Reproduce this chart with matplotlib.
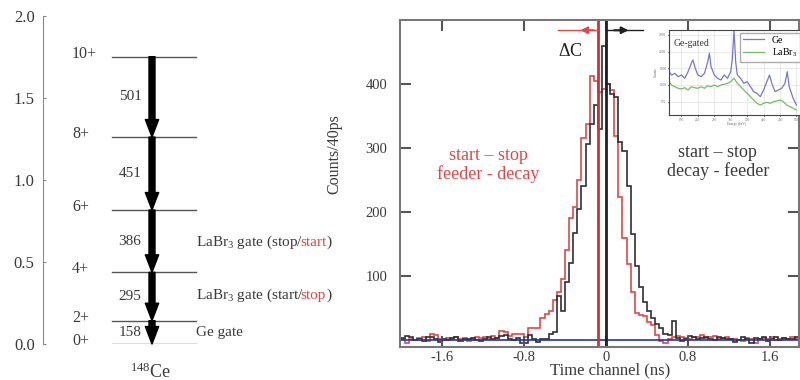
import numpy as np
import matplotlib
matplotlib.use('Agg')
import matplotlib.pyplot as plt
from matplotlib import transforms

plt.rcParams['font.family'] = ['Liberation Serif', 'DejaVu Serif']
plt.rcParams['mathtext.fontset'] = 'custom'
plt.rcParams['mathtext.rm'] = 'Liberation Serif'
plt.rcParams['mathtext.it'] = 'Liberation Serif:italic'
plt.rcParams['axes.unicode_minus'] = False

# level scheme of 148Ce (MeV)
spins = ['0+', '2+', '4+', '6+', '8+', '10+']
levels = [0.0, 0.142, 0.437, 0.817, 1.262, 1.752]
gammas = ['158', '295', '386', '451', '501']

# time difference spectra, 40 ps bins starting at -2.0 ns
bin_start = -2.0
bin_width = 0.04
decay_feeder = [3, 6, 5, 0, 2, -2, 4, 5, 1, -3, 2, 0, 3, 4, -1, 2, 1, 3, 0, -2,
                2, 4, 1, 3, 6, 8, 2, 0, 3, -5, -4, 8, 2, -3, 1,
                2, 10, 12, 68, 45, 90, 120, 167, 205, 240, 307, 338, 367, 330, 460,
                400, 385, 380, 310, 295, 240, 165, 115, 83, 60, 45, 35, 25, 18, 10,
                8, 29, 3,
                -2, 2, 6, 4, 1, 3, 5, 2, 0, 4, 3, 1, 2, -3, 0, 4, 2, -4, 3, 1,
                5, -2, 2, 4, 0, 3, 1, 2, 4, 3]
feeder_decay = [1, -4, 2, 0, 3, 5, -2, 9, 8, 2, 0, 3, 1, 4, 2, 3, -1, 2, 4, 3,
                5, 2, 6, 3, 14, 13, 6, 10, 10, 9,
                5, 18, 18, 18, 35, 40, 45, 62, 75, 95, 140, 190, 208, 250, 315,
                338, 413, 405, 388, 392, 400, 390, 318, 224, 160, 118, 75, 42, 39, 38,
                28, 24, 8, -2,
                -5, 2, 4, 6, 5, 3, 2, 4, 5, 7, 3, 4, 6, 2, 3, 5, 1, 2, 0, -2,
                3, 2, -4, 1, 3, 2, 4, 0, 2, 3, 1, 4, 2, 3]
centroid_feeder_decay = -0.08
centroid_decay_feeder = 0.0
background = 0

# inset: Ge-gated energy spectra
ge_energy = [112, 120, 130, 140, 150, 160, 170, 180, 185, 192, 200, 210, 220, 230, 235,
             240, 250, 260, 270, 280, 290, 300, 305, 310, 315, 320, 330, 340, 350, 360,
             370, 380, 390, 400, 410, 418, 425, 435, 445, 455, 465, 472, 478, 490, 500]
ge_counts = [1400, 1300, 1350, 1250, 1300, 1200, 1400, 1650, 1750, 1500, 1300, 1250, 1350,
             1700, 1950, 1550, 1300, 1200, 1150, 1300, 1200, 1400, 1800, 2650, 1700, 1300,
             1200, 1050, 1100, 950, 800, 750, 650, 850, 1100, 1300, 1050, 800, 850, 900,
             1050, 1400, 950, 600, 400]
labr_energy = [112, 120, 130, 140, 150, 160, 170, 180, 190, 200, 210, 220, 230, 240, 250,
               260, 270, 280, 290, 300, 310, 320, 330, 340, 350, 360, 370, 380, 390, 400,
               410, 420, 430, 440, 450, 460, 470, 480, 490, 500]
labr_counts = [1100, 1000, 950, 900, 880, 920, 850, 950, 920, 900, 950, 900, 980, 950, 1000,
               950, 1000, 1020, 1050, 1100, 1200, 1050, 950, 850, 750, 650, 550, 450, 400,
               450, 480, 450, 500, 520, 550, 500, 400, 350, 300, 250]

red = '#e04848'
dark = '#3a3a3a'


def colored_text(ax, x, y, pieces, **kw):
    # draw text pieces one after another, each in its own colour
    renderer = ax.figure.canvas.get_renderer()
    tr = ax.transData
    for s, c in pieces:
        t = ax.text(x, y, s, color=c, transform=tr, **kw)
        t.draw(renderer)
        ext = t.get_window_extent(renderer)
        w = ext.width - (3 if '$' in s else 0)
        tr = transforms.offset_copy(t.get_transform(), x=w, units='dots')


fig = plt.figure(figsize=(8, 3.8), dpi=100)

# ---- left: level scheme
ax1 = fig.add_axes([43 / 800, 36 / 380, 300 / 800, 328 / 380])
ax1.set_xlim(0, 300)
ax1.set_ylim(0, 2.0)
for s in ['top', 'right', 'bottom']:
    ax1.spines[s].set_visible(False)
ax1.spines['left'].set_color('#8a8a8a')
ax1.set_xticks([])
ax1.set_yticks([0, 0.5, 1.0, 1.5, 2.0])
ax1.set_yticklabels(['0.0', '0.5', '1.0', '1.5', '2.0'])
ax1.tick_params(axis='y', direction='in', length=2, color='#8a8a8a', labelsize=12,
                labelcolor=dark, pad=6)

for sp, e in zip(spins, levels):
    ax1.plot([69, 153], [e, e], color='#555555', lw=1)
    ax1.text(29, e + 0.018, sp, ha='left', va='center', fontsize=11.5, color=dark)

for i, g in enumerate(gammas):
    lo, hi = levels[i], levels[i + 1]
    ax1.annotate('', xy=(109, lo), xytext=(109, hi),
                 arrowprops=dict(arrowstyle='simple,head_length=1.05,head_width=0.8,tail_width=0.36',
                                 color='black', shrinkA=0, shrinkB=0, mutation_scale=12))
    ax1.text(87, (lo + hi) / 2, g, ha='center', va='center', fontsize=11, color=dark)

colored_text(ax1, 153, 0.598, [('LaBr$_3$ gate (stop/', dark), ('start', red), (')', dark)],
             fontsize=11, va='baseline')
colored_text(ax1, 153, 0.274, [('LaBr$_3$ gate (start/', dark), ('stop', red), (')', dark)],
             fontsize=11, va='baseline')
ax1.text(153, 0.049, 'Ge gate', fontsize=11, va='baseline', color=dark)
ax1.text(107, -0.17, '$^{148}$Ce', ha='center', va='center', fontsize=13, color=dark,
         clip_on=False)

# ---- right: time spectra
ax2 = fig.add_axes([400 / 800, 33 / 380, 399 / 800, 327 / 380])
edges = bin_start + bin_width * np.arange(len(decay_feeder) + 1)
ax2.stairs(feeder_decay, edges, color=red, lw=1.2)
ax2.stairs(decay_feeder, edges, color='#303030', lw=1.2)
ax2.axhline(background, color='#2233aa', lw=1.2)
ax2.axvline(centroid_feeder_decay, color='#dd2a2a', lw=2)
ax2.axvline(centroid_decay_feeder, color='#202020', lw=2)

ax2.plot([-0.47, centroid_feeder_decay], [484, 484], color=red, lw=1)
ax2.annotate('', xy=(-0.25, 484), xytext=(-0.12, 484),
             arrowprops=dict(arrowstyle='-|>', color=red, lw=1.5, mutation_scale=10,
                             shrinkA=0, shrinkB=0))
ax2.plot([centroid_decay_feeder, 0.36], [484, 484], color='#202020', lw=1)
ax2.annotate('', xy=(0.22, 484), xytext=(0.08, 484),
             arrowprops=dict(arrowstyle='-|>', color='#202020', lw=1.5, mutation_scale=10,
                             shrinkA=0, shrinkB=0))
ax2.text(-0.47, 450, r'$\Delta$C', fontsize=13, color='#222222', ha='left', va='center')

ax2.text(-1.15, 273, 'start \u2013 stop\nfeeder - decay', color=red, fontsize=13,
         ha='center', va='center', linespacing=1.1)
ax2.text(1.09, 278, 'start \u2013 stop\ndecay - feeder', color=dark, fontsize=13,
         ha='center', va='center', linespacing=1.1)

ax2.set_xlim(-2.01, 1.883)
ax2.set_ylim(-11, 500)
ax2.set_xticks([-1.6, -0.8, 0, 0.8, 1.6])
ax2.set_xticklabels(['-1.6', '-0.8', '0', '0.8', '1.6'])
ax2.set_yticks([100, 200, 300, 400])
ax2.tick_params(axis='both', direction='in', top=True, right=True, length=8, width=1.5,
                color='#555555', labelsize=10.5, labelcolor=dark)
ax2.tick_params(axis='y', pad=9)
ax2.tick_params(axis='x', pad=3)
for s in ax2.spines.values():
    s.set_color('#777777')
    s.set_linewidth(1.5)
ax2.set_ylabel('Counts/40ps', fontsize=11.5, color=dark)
ax2.yaxis.set_label_coords(-0.145, 0.59)
ax2.set_xlabel('Time channel (ns)', fontsize=12, color=dark)
ax2.xaxis.set_label_coords(0.526, -0.048)

# ---- inset
ax3 = fig.add_axes([669 / 800, 265 / 380, 134 / 800, 85 / 380])
ax3.plot(ge_energy, ge_counts, color='#7777cc', lw=0.9, label='Ge')
ax3.plot(labr_energy, labr_counts, color='#77bb66', lw=0.9, label='LaBr$_3$')
ax3.set_xlim(112, 520)
ax3.set_ylim(100, 2650)
ax3.set_xticks([150, 200, 250, 300, 350, 400, 450, 500])
ax3.set_yticks([500, 1000, 1500, 2000, 2500])
ax3.grid(color='#e2e2e2', lw=0.5)
ax3.tick_params(labelsize=2.5, length=1, labelcolor='#666666', pad=1)
ax3.set_xlabel('Energy (keV)', fontsize=2.5, color='#666666', labelpad=0.5)
ax3.set_ylabel('Counts', fontsize=2.5, color='#666666', labelpad=1)
for s in ax3.spines.values():
    s.set_color('#444444')
    s.set_linewidth(0.8)
ax3.text(125, 2250, 'Ge-gated', fontsize=7, color=dark, ha='left', va='center')
ax3.legend(loc='upper right', fontsize=7, handlelength=2.2, frameon=True, fancybox=False,
           edgecolor='#999999', borderpad=0.3, labelspacing=0.2, borderaxespad=0.3)

fig.savefig('out.png', dpi=100)
